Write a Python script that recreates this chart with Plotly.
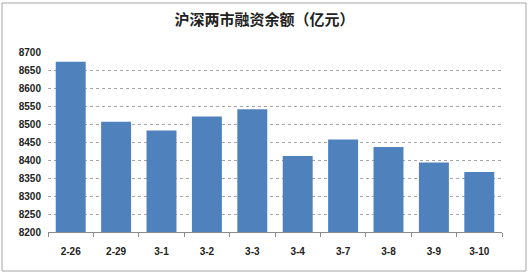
import plotly.graph_objects as go

categories = ["2-26", "2-29", "3-1", "3-2", "3-3", "3-4", "3-7", "3-8", "3-9", "3-10"]
values = [8673, 8506, 8482, 8521, 8541, 8411, 8457, 8436, 8393, 8367]
y_ticks = list(range(8200, 8701, 50))
title_text = "沪深两市融资余额（亿元）"

W, H = 529, 275
L, R, T, B = 48, 27, 52, 43
pw, ph = W - L - R, H - T - B

def px(x):
    return (x - L) / pw

def py(y):
    return (H - B - y) / ph

fig = go.Figure(go.Bar(
    x=categories, y=values, marker_color="#4F81BD", marker_line_width=0,
))

tickfont = dict(size=10, family="Arial", color="#222", weight="bold")

fig.update_layout(
    width=W, height=H,
    margin=dict(l=L, r=R, t=T, b=B),
    paper_bgcolor="white", plot_bgcolor="white",
    bargap=0.34,
    showlegend=False,
    font=dict(family="Noto Sans CJK SC, Arial", color="#222"),
    title=dict(text="<b>" + title_text + "</b>", x=0.5, xanchor="center",
               y=1 - 20 / H, yanchor="middle",
               font=dict(size=15, color="#222", family="Noto Sans CJK SC")),
    xaxis=dict(
        showline=True, linecolor="#8c8c8c", linewidth=1,
        ticks="outside", tickson="boundaries", ticklen=4, tickcolor="#8c8c8c",
        tickfont=tickfont, ticklabelstandoff=10,
        showgrid=False,
    ),
    yaxis=dict(
        range=[8200, 8700], tickvals=y_ticks,
        tickfont=tickfont,
        showgrid=True, gridcolor="#a6a6a6", griddash="3px,3px", gridwidth=1,
        showline=False, zeroline=False, ticks="", ticklabelstandoff=6,
    ),
    shapes=[dict(
        type="rect", xref="paper", yref="paper",
        x0=px(2), x1=px(526), y0=py(271), y1=py(3),
        line=dict(color="#a6a6a6", width=1), fillcolor="rgba(0,0,0,0)", layer="below",
    )],
)

fig.write_html("out.html")
